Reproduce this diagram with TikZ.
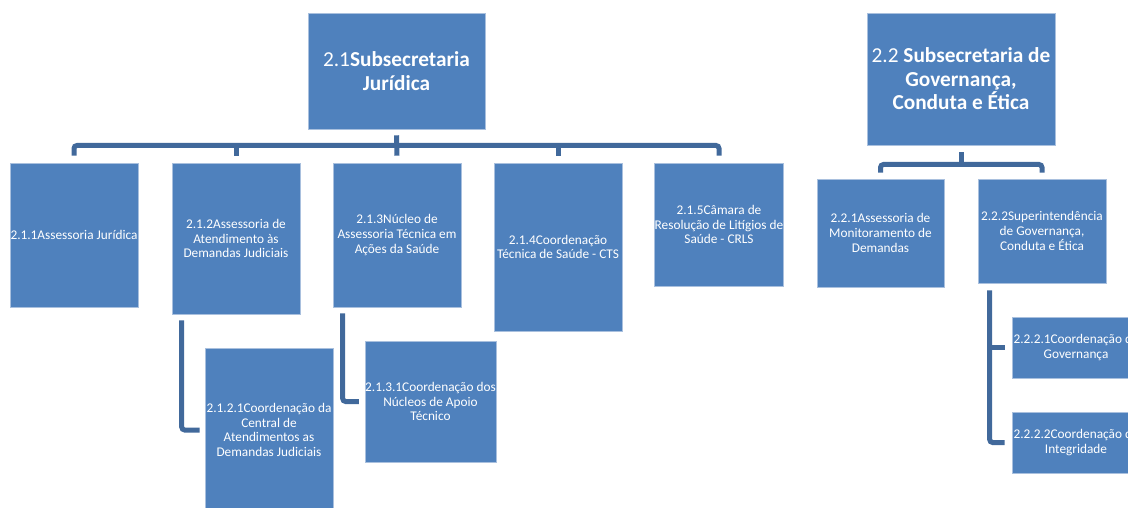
\documentclass[tikz,border=0pt]{standalone}
\usepackage{fontspec}
\setmainfont{Carlito}
\definecolor{boxblue}{HTML}{4F81BD}
\definecolor{boxedge}{HTML}{A9C0DE}
\definecolor{linkblue}{HTML}{41699B}
\begin{document}
\begin{tikzpicture}[x=1pt,y=-1pt,
    unit/.style={rectangle, fill=boxblue, draw=boxedge, line width=0.6pt, inner sep=0pt,
        text=white, align=center, font=\fontsize{13.3}{14.6}\selectfont},
    head/.style={unit, font=\fontsize{21.3}{23.5}\selectfont},
    link/.style={draw=linkblue, line width=5pt, rounded corners=3pt}]
    \useasboundingbox (0,0) rectangle (1128,508);
    \clip (0,0) rectangle (1128,508);

    % Subsecretaria Juridica
    \node[head, minimum width=177, minimum height=116] (sj) at (396.5,71) {2.1\textbf{Subsecretaria}\\\textbf{Jurídica}};
    \node[unit, minimum width=128, minimum height=144] (sj1) at (74,235) {2.1.1Assessoria Jurídica};
    \node[unit, minimum width=128, minimum height=151] (sj2) at (236,238.5) {2.1.2Assessoria de\\Atendimento às\\Demandas Judiciais};
    \node[unit, minimum width=128, minimum height=144] (sj3) at (397,235) {2.1.3Núcleo de\\Assessoria Técnica em\\Ações da Saúde};
    \node[unit, minimum width=128, minimum height=168] (sj4) at (558,247) {2.1.4Coordenação\\Técnica de Saúde - CTS};
    \node[unit, minimum width=128, minimum height=123] (sj5) at (719,224.5) {2.1.5Câmara de\\Resolução de Litígios de\\Saúde - CRLS};
    \node[unit, minimum width=128, minimum height=164] (sj21) at (269,430) {2.1.2.1Coordenação da\\Central de\\Atendimentos as\\Demandas Judiciais};
    \node[unit, minimum width=127, minimum height=121] (sj31) at (430.5,401.5) {2.1.3.1Coordenação dos\\Núcleos de Apoio\\Técnico};

    \coordinate (sjbus) at (396.5,145.5);
    \draw[link] ([yshift=7pt]sj1.north) |- (sjbus) -| ([yshift=7pt]sj5.north);
    \draw[link] ([yshift=-6pt]sj.south) -- ([yshift=7pt]sj3.north);
    \foreach \n in {sj2,sj4}
        \draw[link] (\n.north |- sjbus) -- ([yshift=7pt]\n.north);
    \draw[link] ([xshift=10pt,yshift=-6pt]sj2.south west) |- ([xshift=-5pt]sj21.west);
    \draw[link] ([xshift=10pt,yshift=-6pt]sj3.south west) |- ([xshift=-6pt]sj31.west);

    % Subsecretaria de Governanca
    \node[head, minimum width=188, minimum height=132] (sg) at (961,79) {2.2 \textbf{Subsecretaria de}\\\textbf{Governança,}\\\textbf{Conduta e Ética}};
    \node[unit, minimum width=127, minimum height=108] (sg1) at (880.5,233) {2.2.1Assessoria de\\Monitoramento de\\Demandas};
    \node[unit, minimum width=128, minimum height=104] (sg2) at (1042,231) {2.2.2Superintendência\\de Governança,\\Conduta e Ética};
    \node[unit, minimum width=128, minimum height=61] (sg21) at (1076,347.5) {2.2.2.1Coordenação da\\Governança};
    \node[unit, minimum width=128, minimum height=61] (sg22) at (1076,442.5) {2.2.2.2Coordenação da\\Integridade};

    \coordinate (sgbus) at (961,164.5);
    \draw[link] ([yshift=6pt]sg1.north) |- (sgbus) -| ([yshift=6pt]sg2.north);
    \draw[link] ([yshift=-7pt]sg.south) -- (sgbus);
    \coordinate (sgfork) at ([xshift=12pt,yshift=-7pt]sg2.south west);
    \draw[link] (sgfork) |- ([xshift=-7pt]sg22.west);
    \draw[link] (sgfork |- sg21.west) -- ([xshift=-7pt]sg21.west);
\end{tikzpicture}
\end{document}
